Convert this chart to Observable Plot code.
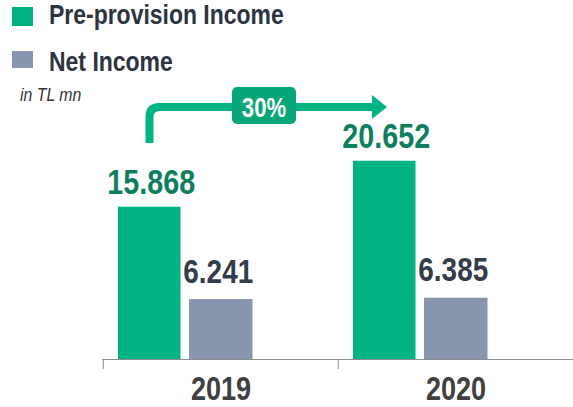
<!DOCTYPE html>
<html>
<head>
<meta charset="utf-8">
<script src="https://cdn.jsdelivr.net/npm/d3@7"></script>
<script src="https://cdn.jsdelivr.net/npm/@observablehq/plot@0.6"></script>
<style>
  html, body { margin: 0; padding: 0; background: #fff; }
  #wrap { position: relative; width: 573px; height: 407px; overflow: hidden; }
  #legend { position: absolute; left: 0; top: 0; font-family: "Liberation Sans", Arial, sans-serif; }
  .item { position: absolute; white-space: nowrap; font-weight: bold; font-size: 28px; line-height: 31px; color: #2b3440; transform: scaleX(0.82); transform-origin: 0 0; }
  .sw { position: absolute; }
  #unit { position: absolute; left: 20px; top: 85px; font-style: italic; font-size: 18px; line-height: 21px; color: #333; white-space: nowrap; transform: scaleX(0.88); transform-origin: 0 0; }
  svg { font-family: "Liberation Sans", Arial, sans-serif; }
</style>
</head>
<body>
<div id="wrap">
  <div id="chart"></div>
  <div id="legend"></div>
</div>
<script>
const years = ["2019", "2020"];
const series = ["Pre-provision Income", "Net Income"];
const preProvision = [15868, 20652];
const netIncome = [6241, 6385];
const valueLabels = { "Pre-provision Income": ["15.868", "20.652"], "Net Income": ["6.241", "6.385"] };
const growthLabel = ["30%"];
const unitLabel = "in TL mn";

const colors = { "Pre-provision Income": "#00b383", "Net Income": "#8796ae" };
const labelColors = { "Pre-provision Income": "#0e7f5e", "Net Income": "#333c48" };

const rows = [];
years.forEach((y, i) => {
  rows.push({ year: y, series: series[0], value: preProvision[i], label: valueLabels[series[0]][i] });
  rows.push({ year: y, series: series[1], value: netIncome[i], label: valueLabels[series[1]][i] });
});
const pre = rows.filter(d => d.series === series[0]);
const net = rows.filter(d => d.series === series[1]);

const W = 573, H = 407, ML = 102, MR = 0, MB = 48;
const bw = (W - ML - MR) / years.length;

const plot = Plot.plot({
  width: W,
  height: H,
  marginLeft: ML,
  marginRight: MR,
  marginTop: 0,
  marginBottom: MB,
  x: { domain: years, padding: 0, axis: null },
  y: { domain: [0, 37400], axis: null },
  marks: [
    Plot.ruleY([0], { stroke: "#8c8c8c", strokeWidth: 1 }),
    Plot.ruleX(years, { x: d => d, y1: 0, y2: -1040, dx: -bw / 2, stroke: "#8c8c8c", strokeWidth: 1 }),
    Plot.barY(pre, { x: "year", y: "value", fill: colors[series[0]], insetLeft: 15, insetRight: bw - 78 }),
    Plot.barY(net, { x: "year", y: "value", fill: colors[series[1]], insetLeft: 86, insetRight: bw - 150 }),
    Plot.text(pre, { x: "year", y: "value", text: "label", dx: 46.5 - bw / 2 + 1.5, dy: -13, lineAnchor: "bottom", fill: labelColors[series[0]], fontSize: 35, fontWeight: "bold" }),
    Plot.text(net, { x: "year", y: "value", text: "label", dx: 118 - bw / 2 - 3, dy: -17, lineAnchor: "bottom", fill: labelColors[series[1]], fontSize: 34, fontWeight: "bold" }),
    Plot.axisX({ domain: years, tickSize: 0, tickPadding: 17, fontSize: 33, fontWeight: "bold", color: "#404040", label: null })
  ]
});
document.getElementById("chart").appendChild(plot);

// growth arrow annotation, positioned from the scales
const xs = plot.scale("x");
const x0 = xs.apply(years[0]) + 46.5;
const x1 = xs.apply(years[1]) + 48;
const yh = 107, ybot = 143, r = 10;
const ns = "http://www.w3.org/2000/svg";
const g = document.createElementNS(ns, "g");
const path = document.createElementNS(ns, "path");
path.setAttribute("d", `M${x0},${ybot} V${yh + r} Q${x0},${yh} ${x0 + r},${yh} H${x1 - 13}`);
path.setAttribute("fill", "none");
path.setAttribute("stroke", "#00b383");
path.setAttribute("stroke-width", 8);
g.appendChild(path);
const head = document.createElementNS(ns, "path");
head.setAttribute("d", `M${x1 - 14},${yh - 12} L${x1 + 1},${yh} L${x1 - 14},${yh + 12} Z`);
head.setAttribute("fill", "#00b383");
g.appendChild(head);
const bx = 264;
const badge = document.createElementNS(ns, "rect");
badge.setAttribute("x", bx - 32);
badge.setAttribute("y", 87);
badge.setAttribute("width", 64);
badge.setAttribute("height", 37);
badge.setAttribute("rx", 5);
badge.setAttribute("fill", "#07a679");
g.appendChild(badge);
const t = document.createElementNS(ns, "text");
t.setAttribute("x", bx);
t.setAttribute("y", 117);
t.setAttribute("text-anchor", "middle");
t.setAttribute("fill", "#fff");
t.setAttribute("font-size", 27);
t.setAttribute("font-weight", "bold");
t.textContent = growthLabel[0];
g.appendChild(t);
plot.appendChild(g);

// condense all svg texts to mimic a narrow face
plot.querySelectorAll("text").forEach(el => {
  const len = el.getComputedTextLength();
  if (len > 0) {
    el.setAttribute("textLength", (len * 0.82).toFixed(1));
    el.setAttribute("lengthAdjust", "spacingAndGlyphs");
  }
});

// legend
const legend = document.getElementById("legend");
const legendPos = [{ sy: 7, sh: 19, ty: -1 }, { sy: 51, sh: 17, ty: 46 }];
series.forEach((s, i) => {
  const sw = document.createElement("div");
  sw.className = "sw";
  sw.style.cssText = `left:12px;top:${legendPos[i].sy}px;width:21px;height:${legendPos[i].sh}px;background:${colors[s]}`;
  legend.appendChild(sw);
  const tx = document.createElement("div");
  tx.className = "item";
  tx.style.cssText = `left:49px;top:${legendPos[i].ty}px;`;
  tx.textContent = s;
  legend.appendChild(tx);
});
const u = document.createElement("div");
u.id = "unit";
u.textContent = unitLabel;
legend.appendChild(u);
</script>
</body>
</html>
